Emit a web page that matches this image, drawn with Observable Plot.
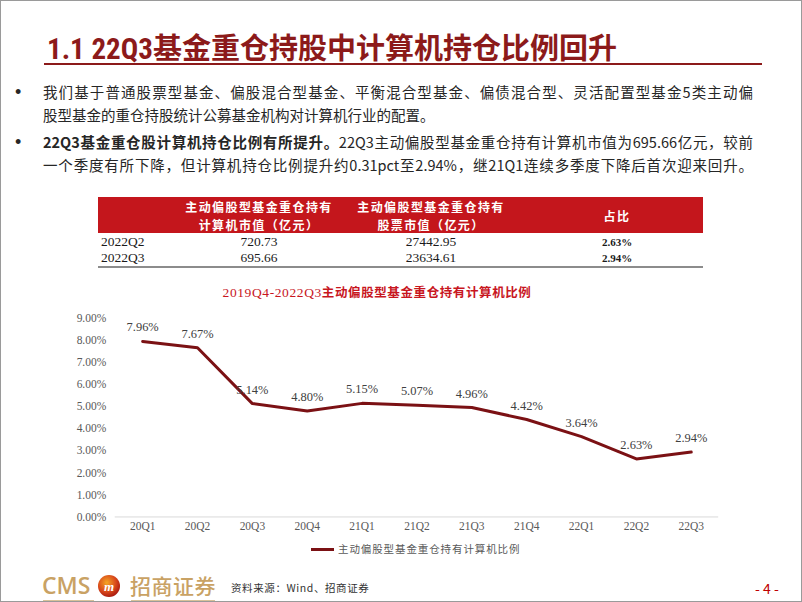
<!DOCTYPE html>
<html>
<head>
<meta charset="utf-8">
<script src="https://cdn.jsdelivr.net/npm/d3@7"></script>
<script src="https://cdn.jsdelivr.net/npm/@observablehq/plot@0.6"></script>
<style>
  html, body { margin: 0; padding: 0; background: #fff; }
  #page { position: relative; width: 802px; height: 602px; box-sizing: border-box; border: 1px solid #9a9a9a; overflow: hidden; font-family: "Noto Sans CJK SC", sans-serif; }
  .abs { position: absolute; white-space: nowrap; }
  .title { left: 46px; top: 27px; font-size: 29px; font-weight: 700; color: #8c1a1a; line-height: 36px; }
  .title .lat { font-family: "Liberation Sans Narrow", "Roboto Condensed", "Liberation Sans", sans-serif; }
  .uline { left: 43px; top: 62px; width: 718px; height: 2px; background: #8c1a1a; }
  .bul { font-size: 14.5px; color: #262626; line-height: 20px; }
  .dot { font-size: 18px; color: #262626; line-height: 20px; font-family: "Liberation Sans", sans-serif; }
  .just { text-align: justify; text-align-last: justify; }
  .thead { left: 97px; top: 196px; width: 605px; height: 36px; background: #c4161c; }
  .th { color: #fff; font-size: 12px; font-weight: 700; line-height: 15px; height: 15px; text-align: center; letter-spacing: 1.4px; }
  .td { font-family: "Liberation Serif", serif; font-size: 13.5px; color: #1a1a1a; line-height: 16px; }
  .ctitle { font-size: 12.5px; font-weight: 700; color: #c8161e; letter-spacing: 0.6px; }
  .ctitle .lat { font-family: "Liberation Serif", serif; font-weight: 400; font-size: 13.5px; }
</style>
</head>
<body>
<div id="page">
  <div class="abs title"><span class="lat">1.1 22Q3</span>基金重仓持股中计算机持仓比例回升</div>
  <div class="abs uline"></div>

  <div class="abs dot" style="left:14px; top:81px;">•</div>
  <div class="abs bul just" style="left:42px; top:81px; width:710px;">我们基于普通股票型基金、偏股混合型基金、平衡混合型基金、偏债混合型、灵活配置型基金5类主动偏</div>
  <div class="abs bul" style="left:42px; top:104px;">股型基金的重仓持股统计公募基金机构对计算机行业的配置。</div>
  <div class="abs dot" style="left:14px; top:131px;">•</div>
  <div class="abs bul just" style="left:42px; top:131px; width:710px;"><b>22Q3基金重仓股计算机持仓比例有所提升。</b>22Q3主动偏股型基金重仓持有计算机市值为695.66亿元，较前</div>
  <div class="abs bul just" style="left:42px; top:154px; width:710px;">一个季度有所下降，但计算机持仓比例提升约0.31pct至2.94%，继21Q1连续多季度下降后首次迎来回升。</div>

  <div id="table"></div>

  <div class="abs ctitle" style="left:0; width:752px; top:281px; text-align:center;"><span class="lat">2019Q4-2022Q3</span>主动偏股型基金重仓持有计算机比例</div>

  <div id="chart" class="abs" style="left:0; top:300px;"></div>

  <div class="abs" style="left:310px; top:547px; width:23px; height:3px; background:#7b1114;"></div>
  <div class="abs" style="left:337px; top:540px; font-size:10.5px; color:#595959; line-height:16px; letter-spacing:0.9px;">主动偏股型基金重仓持有计算机比例</div>

  <div class="abs" style="left:41px; top:568px; font-family:'Open Sans', sans-serif; font-weight:600; font-size:23px; color:#c9a264; line-height:32px;">CMS</div>
  <div class="abs" style="left:42px; top:599px; width:51px; height:2px; background:#d8c29a;"></div>
  <svg class="abs" style="left:96px; top:573px;" width="24" height="24" viewBox="0 0 24 24">
    <defs><radialGradient id="g" cx="40%" cy="35%" r="70%"><stop offset="0%" stop-color="#f5a623"/><stop offset="60%" stop-color="#d8471a"/><stop offset="100%" stop-color="#a3140e"/></radialGradient></defs>
    <circle cx="12" cy="12" r="11" fill="url(#g)"/>
    <text x="12" y="16.5" text-anchor="middle" font-family="Liberation Serif, serif" font-style="italic" font-weight="700" font-size="13" fill="#fff">m</text>
  </svg>
  <div class="abs" style="left:129px; top:569px; font-size:21px; font-weight:500; color:#c9a264; line-height:30px; letter-spacing:0.5px;">招商证券</div>
  <div class="abs" style="left:130px; top:599px; width:84px; height:2px; background:#d8c29a;"></div>
  <div class="abs" style="left:230px; top:579px; font-size:10.5px; color:#333; line-height:16px; letter-spacing:0.6px;">资料来源：Wind、招商证券</div>
  <div class="abs" style="left:754px; top:577px; font-size:14px; color:#c00000; line-height:20px;">- 4 -</div>
</div>

<script>
// ---- data ----
const quarters = ["20Q1","20Q2","20Q3","20Q4","21Q1","21Q2","21Q3","21Q4","22Q1","22Q2","22Q3"];
const ratios = [7.96, 7.67, 5.14, 4.80, 5.15, 5.07, 4.96, 4.42, 3.64, 2.63, 2.94];
const yTicks = [0, 1, 2, 3, 4, 5, 6, 7, 8, 9];

const tableHeader = [["", ""], ["主动偏股型基金重仓持有", "计算机市值（亿元）"], ["主动偏股型基金重仓持有", "股票市值（亿元）"], ["占比"]];
const tablePeriods = ["2022Q2", "2022Q3"];
const computerValue = ["720.73", "695.66"];
const stockValue = ["27442.95", "23634.61"];
const shareValue = ["2.63%", "2.94%"];

// ---- table ----
const tbl = document.getElementById("table");
const colCenters = [null, 258, 430, 616];
let html = '<div class="abs thead"></div>';
tableHeader.forEach((lines, i) => {
  if (i === 0) return;
  if (lines.length === 2) {
    html += `<div class="abs th" style="left:${colCenters[i]-100}px; width:200px; top:197.5px;">${lines[0]}</div>`;
    html += `<div class="abs th" style="left:${colCenters[i]-100}px; width:200px; top:215.5px;">${lines[1]}</div>`;
  } else {
    html += `<div class="abs th" style="left:${colCenters[i]-100}px; width:200px; top:207px;">${lines[0]}</div>`;
  }
});
tablePeriods.forEach((p, r) => {
  const top = 233 + r * 16;
  html += `<div class="abs td" style="left:100px; top:${top}px;">${p}</div>`;
  html += `<div class="abs td" style="left:${colCenters[1]-60}px; width:120px; text-align:center; top:${top}px;">${computerValue[r]}</div>`;
  html += `<div class="abs td" style="left:${colCenters[2]-60}px; width:120px; text-align:center; top:${top}px;">${stockValue[r]}</div>`;
  html += `<div class="abs td" style="left:${colCenters[3]-60}px; width:120px; text-align:center; top:${top}px; font-weight:700; font-size:11px;">${shareValue[r]}</div>`;
});
html += '<div class="abs" style="left:97px; top:265px; width:605px; height:1.5px; background:#8c8c8c;"></div>';
tbl.innerHTML = html;

// ---- chart ----
const data = quarters.map((q, i) => ({q, v: ratios[i]}));
const chart = Plot.plot({
  width: 802,
  height: 240,
  marginLeft: 114,
  marginRight: 83,
  marginTop: 17,
  marginBottom: 24,
  style: {fontFamily: "'Liberation Serif', serif", background: "transparent"},
  x: {type: "band", domain: quarters, padding: 0},
  y: {domain: [0, 9]},
  marks: [
    Plot.ruleY([0], {stroke: "#d9d9d9", strokeWidth: 1}),
    Plot.axisY({ticks: yTicks, tickSize: 0, tickPadding: 9, tickFormat: d => d.toFixed(2) + "%", fontSize: 11.5, color: "#595959", label: null}),
    Plot.axisX({tickSize: 0, tickPadding: 5, fontSize: 11.5, color: "#595959", label: null}),
    Plot.lineY(data, {x: "q", y: "v", stroke: "#7b1114", strokeWidth: 3, strokeLinejoin: "miter"}),
    Plot.text(data, {x: "q", y: "v", text: d => d.v.toFixed(2) + "%", dy: -14, fontSize: 12.5, fill: "#404040"})
  ]
});
document.getElementById("chart").appendChild(chart);
</script>
</body>
</html>
